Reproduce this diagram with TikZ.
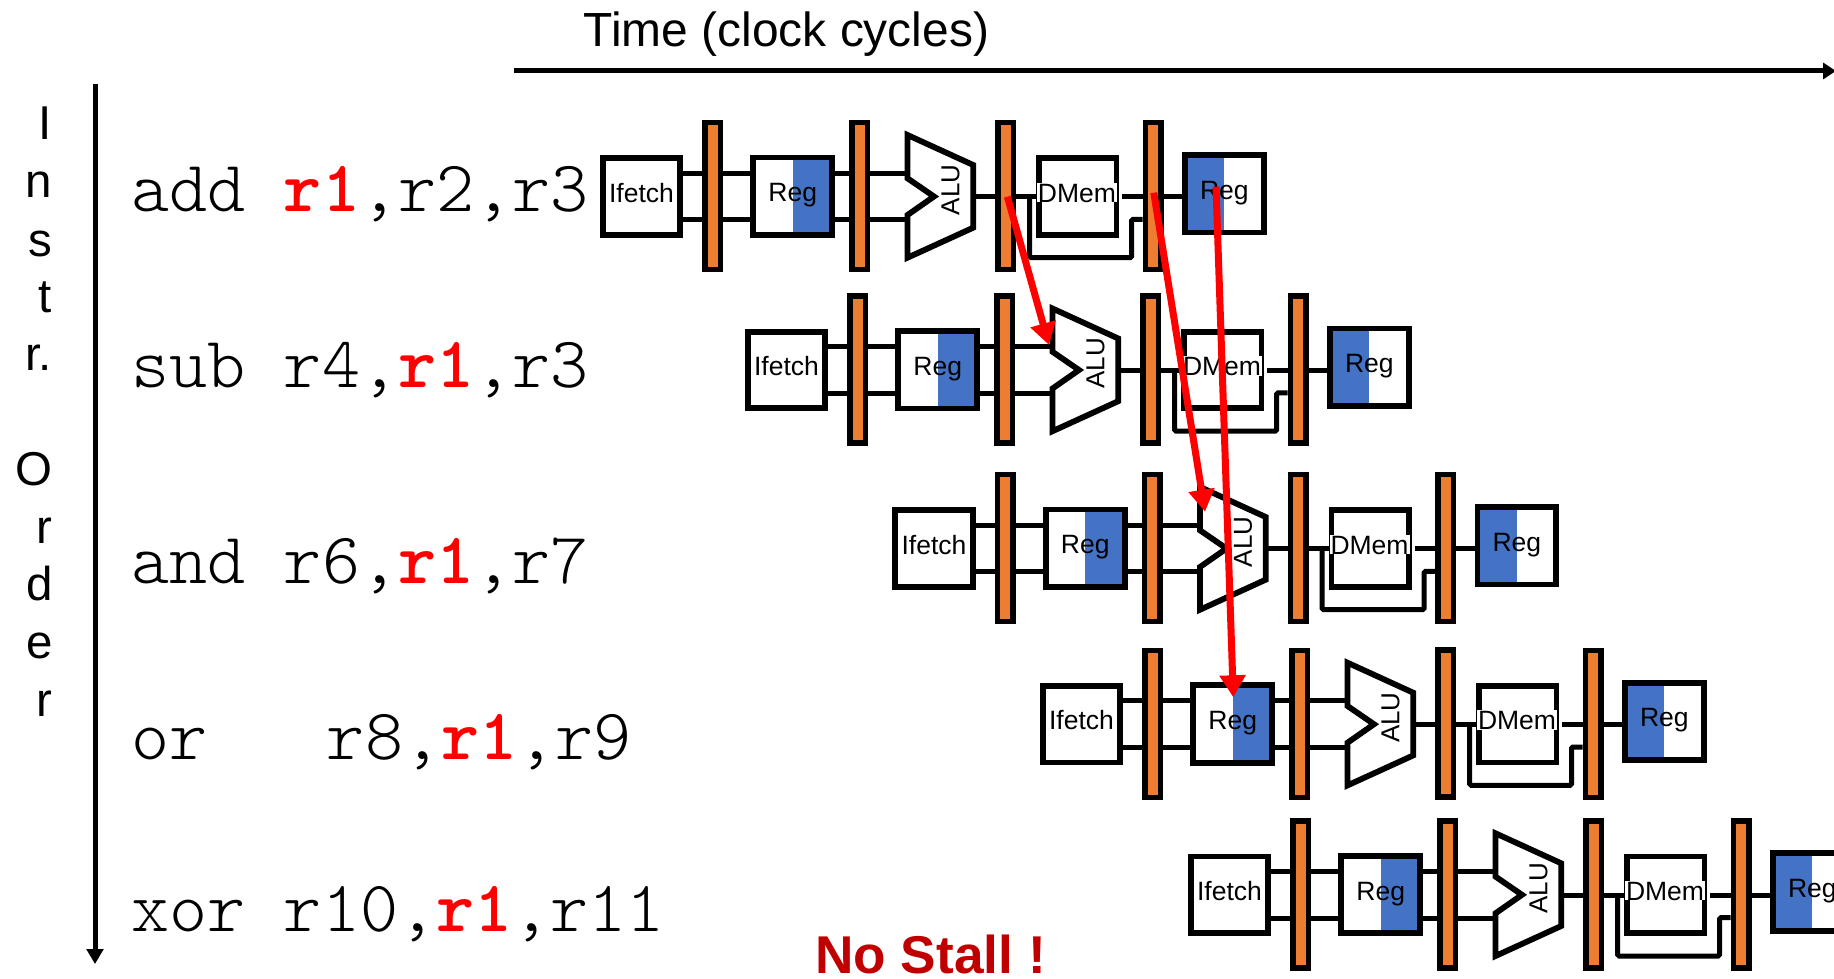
\documentclass[tikz,border=0pt]{standalone}
\usepackage{fontspec}
\setmainfont{Liberation Sans}
\usetikzlibrary{arrows.meta,backgrounds}
\definecolor{latchor}{HTML}{ED7D31}
\definecolor{regblue}{HTML}{4472C4}
\definecolor{stallred}{HTML}{C00000}
\definecolor{hazred}{HTML}{FF0000}
\tikzset{
  x=1pt,y=-1pt,
  unitbox/.style={draw=black,line width=5.8pt,fill=white,inner sep=0pt,minimum width=77.5pt,minimum height=76.5pt,
    font=\fontsize{26.5}{26.5}\selectfont,text height=21pt,text depth=10pt},
  regbox/.style={unitbox,minimum width=78.8pt,minimum height=77.5pt},
  regleft/.style={regbox,path picture={\fill[regblue] (path picture bounding box.north west) rectangle (path picture bounding box.south);}},
  regright/.style={regbox,path picture={\fill[regblue] (path picture bounding box.north) rectangle (path picture bounding box.south east);}},
  latchbar/.style={draw=black,line width=5.5pt,fill=latchor,inner sep=0pt,minimum width=15.5pt,minimum height=147pt},
  wire/.style={draw=black,line width=5pt},
  axisline/.style={draw=black,line width=5pt,-{Triangle[length=15pt,width=16.5pt]}},
  hazard/.style={draw=hazred,line width=7pt,-{Triangle[length=22pt,width=25pt]}},
  codeline/.style={anchor=base west,inner sep=0pt,font=\ttfamily\fontseries{l}\fontsize{72.5}{72.5}\selectfont},
  vletter/.style={anchor=base,inner sep=0pt,font=\fontsize{47.5}{47.5}\selectfont},
  dmemlabel/.style={fill=white,inner xsep=1pt,inner ysep=0pt,font=\fontsize{26.5}{26.5}\selectfont,text height=19.5pt,text depth=0pt},
  alulabel/.style={rotate=90,inner sep=0pt,font=\fontsize{26}{26}\selectfont},
  alubody/.style={draw=black,line width=5.8pt,fill=white,miter limit=3},
}
\newcommand{\hot}{\textcolor{hazred}{\fontseries{b}\selectfont r1}}
\newcommand{\pipeline}[3]{%
\begin{scope}[shift={(#2,#3)}]
  \coordinate (#1top) at (0,173);
  \coordinate (#1bot) at (0,219.7);
  \coordinate (#1mid) at (0,196.7);
  \node[unitbox] (#1if) at (641.5,196.5) {Ifetch};
  \node[latchbar] (#1la) at (712.7,196.2) {};
  \node[regright] (#1rg) at (792.7,196.2) {Reg};
  \node[latchbar] (#1lb) at (859.5,196.2) {};
  \coordinate (#1aua) at (907.5,135);
  \coordinate (#1aub) at (973.2,165);
  \coordinate (#1auc) at (973.2,227.7);
  \coordinate (#1aud) at (907.5,257.7);
  \coordinate (#1aue) at (907.5,219.7);
  \coordinate (#1auf) at (907.5,215);
  \coordinate (#1aug) at (934,196.5);
  \coordinate (#1auh) at (907.5,178.3);
  \coordinate (#1aui) at (907.5,173);
  \draw[alubody] (#1aua) -- (#1aub) -- (#1auc) -- (#1aud) -- (#1auf) -- (#1aug) -- (#1auh) -- cycle;
  \node[alulabel] (#1au) at (950.5,190) {ALU};
  \node[latchbar] (#1lc) at (1005.5,196) {};
  \node[unitbox] (#1dm) at (1077.7,196.5) {};
  \node[dmemlabel,anchor=base] (#1dt) at (1077,202) {DMem};
  \coordinate (#1dmo) at (1122,196.7);
  \node[latchbar] (#1ld) at (1153.2,196.2) {};
  \node[regleft] (#1rr) at (1224.3,193.7) {Reg};
  \coordinate (#1bpa) at (1029.7,196.7);
  \coordinate (#1bpb) at (1029.7,257.7);
  \coordinate (#1bpc) at (1131.5,257.7);
  \coordinate (#1bpd) at (1131.5,219.3);
  \begin{pgfonlayer}{background}
    \draw[wire] (#1if.east |- #1top) -- (#1rg.west |- #1top);
    \draw[wire] (#1if.east |- #1bot) -- (#1rg.west |- #1bot);
    \draw[wire] (#1rg.east |- #1top) -- (#1aui);
    \draw[wire] (#1rg.east |- #1bot) -- (#1aue);
    \draw[wire] (#1auc |- #1mid) -- (#1dm.west |- #1mid);
    \draw[wire] (#1dmo) -- (#1rr.west |- #1mid);
    \draw[wire,rounded corners=1.5pt] (#1bpa) -- (#1bpb) -- (#1bpc) -- (#1bpd) -- (#1ld.west |- #1bpd);
  \end{pgfonlayer}
\end{scope}}
\begin{document}
\begin{tikzpicture}
\useasboundingbox (0,0) rectangle (1834,979);
% axes
\coordinate (timeS) at (514,71);
\coordinate (timeE) at (1836,71);
\coordinate (orderS) at (95,84);
\coordinate (orderE) at (95,964);
\draw[axisline,-{Triangle[length=13pt,width=16pt]}] (timeS) -- (timeE);
\draw[axisline] (orderS) -- (orderE);
\node[anchor=base west,inner sep=0pt,font=\fontsize{47.9}{47.9}\selectfont] (timelabel) at (583.5,46.7) {Time (clock cycles)};
% vertical label
\node[vletter] (v1) at (45.5,139.3) {I};
\node[vletter] (v2) at (39,197.3) {n};
\node[vletter] (v3) at (40,256) {s};
\node[vletter] (v4) at (45.5,312) {t};
\node[vletter] (v5) at (38.5,370.7) {r.};
\node[vletter] (v6) at (33.5,485) {O};
\node[vletter] (v7) at (44.6,543.3) {r};
\node[vletter] (v8) at (39.3,600) {d};
\node[vletter] (v9) at (39.3,658) {e};
\node[vletter] (v10) at (44.6,716.7) {r};
% code
\node[codeline] (c1) at (131.5,211) {add \hot,r2,r3};
\node[codeline] (c2) at (131.5,387) {sub r4,\hot,r3};
\node[codeline] (c3) at (131.5,583) {and r6,\hot,r7};
\node[codeline] (c4) at (131.5,759) {or~~~\hspace{5pt}r8,\hot,r9};
\node[codeline] (c5) at (131.5,931) {xor r10,\hot,r11};
\pipeline{pa}{0}{0}
\pipeline{pb}{145}{173.5}
\pipeline{pc}{292.5}{352}
\pipeline{pd}{440}{527.7}
\pipeline{pe}{588}{698.3}
\node[anchor=base west,inner sep=0pt,text=stallred,text depth=0pt,font=\bfseries\fontsize{53.2}{53.2}\selectfont] (nostall) at (815,973) {No Stall !};
% hazards
\coordinate (hzas) at (1007.4,196.7);
\coordinate (hzae) at (1049,345);
\coordinate (hzbs) at (1153.8,192.7);
\coordinate (hzbe) at (1205,511.7);
\coordinate (hzcs) at (1216,186.7);
\coordinate (hzce) at (1233.3,697.3);
\draw[hazard] (hzas) -- (hzae);
\draw[hazard] (hzbs) -- (hzbe);
\draw[hazard] (hzcs) -- (hzce);
\end{tikzpicture}
\end{document}
